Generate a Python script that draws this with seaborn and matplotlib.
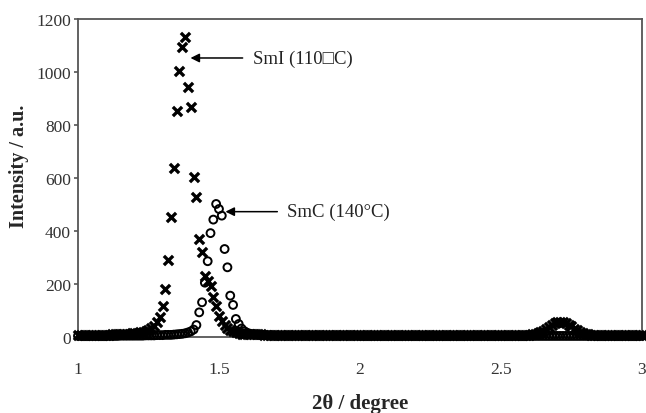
import numpy as np
import pandas as pd
import seaborn as sns
import matplotlib.pyplot as plt

# Messpunkte (2 theta in Grad), Schrittweite 0.01
two_theta = [
    1.00, 1.01, 1.02, 1.03, 1.04, 1.05, 1.06, 1.07, 1.08, 1.09,
    1.10, 1.11, 1.12, 1.13, 1.14, 1.15, 1.16, 1.17, 1.18, 1.19,
    1.20, 1.21, 1.22, 1.23, 1.24, 1.25, 1.26, 1.27, 1.28, 1.29,
    1.30, 1.31, 1.32, 1.33, 1.34, 1.35, 1.36, 1.37, 1.38, 1.39,
    1.40, 1.41, 1.42, 1.43, 1.44, 1.45, 1.46, 1.47, 1.48, 1.49,
    1.50, 1.51, 1.52, 1.53, 1.54, 1.55, 1.56, 1.57, 1.58, 1.59,
    1.60, 1.61, 1.62, 1.63, 1.64, 1.65, 1.66, 1.67, 1.68, 1.69,
    1.70, 1.71, 1.72, 1.73, 1.74, 1.75, 1.76, 1.77, 1.78, 1.79,
    1.80, 1.81, 1.82, 1.83, 1.84, 1.85, 1.86, 1.87, 1.88, 1.89,
    1.90, 1.91, 1.92, 1.93, 1.94, 1.95, 1.96, 1.97, 1.98, 1.99,
    2.00, 2.01, 2.02, 2.03, 2.04, 2.05, 2.06, 2.07, 2.08, 2.09,
    2.10, 2.11, 2.12, 2.13, 2.14, 2.15, 2.16, 2.17, 2.18, 2.19,
    2.20, 2.21, 2.22, 2.23, 2.24, 2.25, 2.26, 2.27, 2.28, 2.29,
    2.30, 2.31, 2.32, 2.33, 2.34, 2.35, 2.36, 2.37, 2.38, 2.39,
    2.40, 2.41, 2.42, 2.43, 2.44, 2.45, 2.46, 2.47, 2.48, 2.49,
    2.50, 2.51, 2.52, 2.53, 2.54, 2.55, 2.56, 2.57, 2.58, 2.59,
    2.60, 2.61, 2.62, 2.63, 2.64, 2.65, 2.66, 2.67, 2.68, 2.69,
    2.70, 2.71, 2.72, 2.73, 2.74, 2.75, 2.76, 2.77, 2.78, 2.79,
    2.80, 2.81, 2.82, 2.83, 2.84, 2.85, 2.86, 2.87, 2.88, 2.89,
    2.90, 2.91, 2.92, 2.93, 2.94, 2.95, 2.96, 2.97, 2.98, 2.99,
    3.00,
]

# SmI bei 110 C (Kreuze)
smi_110 = [
    8, 8, 8, 8, 8, 8, 8, 9, 9, 9,
    9, 9, 10, 10, 10, 11, 11, 12, 13, 14,
    15, 16, 18, 20, 23, 27, 33, 42, 55, 74,
    116, 181, 291, 452, 638, 853, 1004, 1094, 1132, 943,
    868, 603, 527, 370, 320, 231, 212, 194, 150, 118,
    80, 60, 45, 35, 27, 22, 18, 15, 13, 12,
    11, 11, 10, 10, 10, 10, 9, 9, 9, 9,
    9, 9, 9, 9, 9, 9, 9, 8, 8, 8,
    8, 8, 8, 8, 8, 8, 8, 8, 8, 8,
    8, 8, 8, 8, 8, 8, 8, 8, 8, 8,
    8, 8, 8, 8, 8, 8, 8, 8, 8, 8,
    8, 8, 8, 8, 8, 8, 8, 8, 8, 8,
    8, 8, 8, 8, 8, 8, 8, 8, 8, 8,
    8, 8, 8, 8, 8, 8, 8, 8, 8, 8,
    8, 8, 8, 8, 8, 8, 8, 8, 8, 8,
    8, 8, 8, 8, 8, 8, 8, 8, 8, 8,
    9, 10, 12, 15, 19, 24, 30, 37, 44, 51,
    56, 58, 57, 53, 47, 40, 32, 25, 19, 15,
    12, 10, 9, 8, 8, 8, 8, 8, 8, 8,
    8, 8, 8, 8, 8, 8, 8, 8, 8, 8,
    8,
]

# SmC bei 140 C (Kreise)
smc_140 = [
    4, 4, 4, 4, 4, 4, 4, 4, 4, 4,
    4, 4, 4, 4, 4, 5, 5, 5, 5, 5,
    5, 5, 5, 5, 6, 6, 6, 6, 7, 7,
    7, 8, 8, 8, 9, 10, 11, 12, 14, 17,
    21, 28, 45, 93, 131, 205, 286, 392, 443, 502,
    483, 458, 332, 263, 156, 121, 68, 49, 32, 22,
    16, 12, 10, 9, 8, 7, 7, 6, 6, 6,
    5, 5, 5, 5, 5, 5, 5, 5, 5, 5,
    5, 5, 5, 5, 5, 5, 5, 5, 5, 5,
    5, 5, 5, 5, 5, 5, 5, 5, 5, 5,
    4, 4, 4, 4, 4, 4, 4, 4, 4, 4,
    4, 4, 4, 4, 4, 4, 4, 4, 4, 4,
    4, 4, 4, 4, 4, 4, 4, 4, 4, 4,
    4, 4, 4, 4, 4, 4, 4, 4, 4, 4,
    4, 4, 4, 4, 4, 4, 4, 4, 4, 4,
    4, 4, 4, 4, 4, 4, 4, 4, 4, 4,
    4, 4, 4, 4, 4, 4, 4, 4, 4, 4,
    4, 4, 4, 4, 4, 4, 4, 4, 4, 4,
    4, 4, 4, 4, 4, 4, 4, 4, 4, 4,
    4, 4, 4, 4, 4, 4, 4, 4, 4, 4,
    4,
]

x_ticks = [1, 1.5, 2, 2.5, 3]
x_tick_labels = ["1", "1.5", "2", "2.5", "3"]
y_ticks = [0, 200, 400, 600, 800, 1000, 1200]

df = pd.DataFrame({"two_theta": two_theta, "SmI": smi_110, "SmC": smc_140})

sns.set_style("ticks")
plt.rcParams["font.family"] = ["Liberation Serif", "DejaVu Serif"]

fig = plt.figure(figsize=(6.46, 4.14), dpi=100)
ax = fig.add_axes([0.1207, 0.1836, 0.873, 0.768])

# Kreise (SmC) zuerst, Kreuze (SmI) darueber
sns.scatterplot(data=df, x="two_theta", y="SmC", marker="o", s=32,
                facecolor="none", edgecolor="black", linewidth=1.4,
                ax=ax, clip_on=False, zorder=3)
sns.scatterplot(data=df, x="two_theta", y="SmI", marker="x", s=44,
                color="black", linewidth=2.4, ax=ax, clip_on=False, zorder=4)

ax.set_xlim(1, 3)
ax.set_ylim(0, 1200)
ax.set_xticks(x_ticks)
ax.set_xticklabels(x_tick_labels)
ax.set_yticks(y_ticks)
ax.tick_params(axis="x", length=0, pad=17, labelsize=12.5, labelcolor="#333333")
ax.tick_params(axis="y", direction="out", length=3, width=1.2, color="#555555",
               pad=2, labelsize=12.5, labelcolor="#333333")

for side in ["left", "right", "top", "bottom"]:
    ax.spines[side].set_color("#555555")
    ax.spines[side].set_linewidth(1.3)

ax.set_xlabel("2θ / degree", fontsize=15, fontweight="bold")
ax.set_ylabel("Intensity / a.u.", fontsize=14.5, fontweight="bold")
ax.xaxis.set_label_coords(0.5, -0.175)
ax.yaxis.set_label_coords(-0.087, 0.54)

# Pfeile mit Beschriftung
ax.annotate("", xy=(1.399, 1053), xytext=(1.584, 1053),
            arrowprops=dict(arrowstyle="-|>", color="black", lw=1.1,
                            mutation_scale=13, shrinkA=0, shrinkB=0))
ax.text(1.619, 1053, "SmI (110□C)", fontsize=13.5, color="#222222",
        ha="left", va="center")

ax.annotate("", xy=(1.523, 473), xytext=(1.707, 473),
            arrowprops=dict(arrowstyle="-|>", color="black", lw=1.1,
                            mutation_scale=13, shrinkA=0, shrinkB=0))
ax.text(1.743, 473, "SmC (140°C)", fontsize=13.5, color="#222222",
        ha="left", va="center")

plt.savefig("out.png", dpi=100)
